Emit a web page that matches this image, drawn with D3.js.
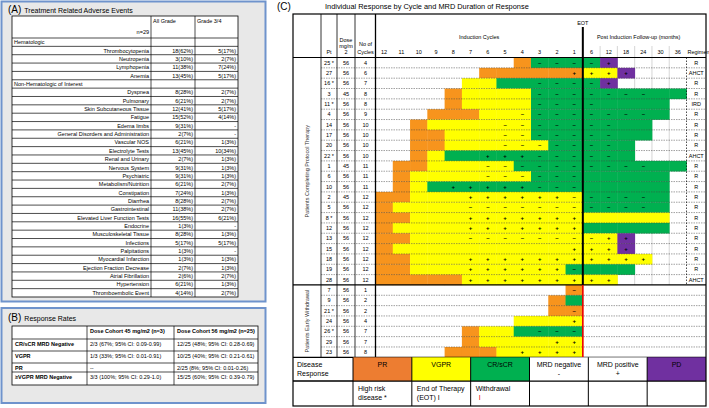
<!DOCTYPE html>
<html>
<head>
<meta charset="utf-8">
<script src="https://cdn.jsdelivr.net/npm/d3@7"></script>
<style>
  body { margin: 0; background: #fff; }
  svg { display: block; }
  text { font-family: "Liberation Sans", Arial, sans-serif; }
</style>
</head>
<body>
<script>
// ---------- data: panel A ----------
const aeNames = ["Hematologic", "Thrombocytopenia", "Neutropenia", "Lymphopenia", "Anemia",
  "Non-Hematologic of Interest", "Dyspnea", "Pulmonary", "Skin Subcutaneous Tissue", "Fatigue",
  "Edema limbs", "General Disorders and Administration", "Vascular NOS", "Electrolyte Tests",
  "Renal and Urinary", "Nervous System", "Psychiatric", "Metabolism/Nutrition", "Constipation",
  "Diarrhea", "Gastrointestinal", "Elevated Liver Function Tests", "Endocrine",
  "Musculoskeletal Tissue", "Infections", "Palpitations", "Myocardial Infarction",
  "Ejection Fraction Decrease", "Atrial Fibrillation", "Hypertension", "Thromboembolic Event"];
const aeAll = ["", "18(62%)", "3(10%)", "11(38%)", "13(45%)", "", "8(28%)", "6(21%)", "12(41%)",
  "15(52%)", "9(31%)", "2(7%)", "6(21%)", "13(45%)", "2(7%)", "9(31%)", "9(31%)", "6(21%)",
  "7(24%)", "8(28%)", "11(38%)", "16(55%)", "1(3%)", "8(28%)", "5(17%)", "1(3%)", "1(3%)",
  "2(7%)", "2(6%)", "6(21%)", "4(14%)"];
const aeG34 = ["", "5(17%)", "2(7%)", "7(24%)", "5(17%)", "", "2(7%)", "2(7%)", "5(17%)",
  "4(14%)", "-", "-", "1(3%)", "10(34%)", "1(3%)", "1(3%)", "1(3%)", "2(7%)", "1(3%)", "2(7%)",
  "2(7%)", "6(21%)", "-", "1(3%)", "5(17%)", "-", "1(3%)", "1(3%)", "2(7%)", "1(3%)", "2(7%)"];
const aeSections = ["Hematologic", "Non-Hematologic of Interest"];

// ---------- data: panel B ----------
const rrHead = ["", "Dose Cohort 45 mg/m2  (n=3)", "Dose Cohort 56 mg/m2  (n=25)"];
const rrLabels = ["CR/sCR  MRD Negative", "VGPR", "PR", "\u2265VGPR  MRD Negative"];
const rr45 = ["2/3 (67%; 95% CI:  0.09-0.99)", "1/3 (33%; 95% CI:  0.01-0.91)", "--",
  "3/3 (100%; 95% CI:  0.29-1.0)"];
const rr56 = ["12/25 (48%; 95% CI:  0.28-0.69)", "10/25 (40%; 95% CI: 0.21-0.61)",
  "2/25 (8%; 95% CI: 0.01-0.26)", "15/25 (60%; 95% CI: 0.39-0.79)"];

// ---------- data: panel C ----------
const inductionCycles = [12, 11, 10, 9, 8, 7, 6, 5, 4, 3, 2, 1];
const followUpMonths = [6, 12, 18, 24, 30, 36];
const ptIds = ["25", "27", "16", "3", "11", "4", "14", "17", "20", "22", "1", "6", "10", "2", "5",
  "8", "12", "13", "15", "18", "19", "28", "7", "9", "21", "24", "26", "29", "23"];
const ptDose = [56, 56, 56, 45, 56, 56, 56, 56, 56, 56, 45, 56, 56, 45, 56, 56, 56, 56, 56, 56,
  56, 56, 56, 56, 56, 56, 56, 56, 56];
const ptCycles = [4, 6, 7, 8, 8, 9, 10, 10, 10, 10, 11, 11, 11, 12, 12, 12, 12, 12, 12, 12, 12, 12,
  1, 2, 2, 4, 7, 7, 8];
const highRisk = ["25", "16", "11", "22", "8", "21", "26"];
const nCompleting = 22;
// one char per column: cycles 12..1 then months 6..36 (O=PR, Y=VGPR, G=CR/sCR, P=PD)
const response = [
  "........OGGG" + "GP....", "......OOOOOO" + "YYP...", ".....YYGGGGG" + "GP....",
  "....OYYYYGGG" + "GGGGGG", "....OYYYYGGG" + "GGGGG.", "...OOOYYYGGG" + "GGGGG.",
  "..OYYYYYYGGG" + "GGGG..", "..OOYYYYYGGG" + "GGGG..", "..OOYYYYYYGG" + "GGG...",
  "..OYGGGGGGGG" + "GGG...", ".OOYYYYYGGGG" + "GGGGGG", ".OYYYYYYYGGG" + "GGGGG.",
  ".OYGGGGGGGGG" + "GGGGG.", "OOYYYYYYYYYY" + "GGGGG.", "OYYYYYYYYYYY" + "GGGGG.",
  "OOYYYYYYYYYY" + "YYYYY.", "OYYYYYYYYYYY" + "GGGGG.", "OOYYYYYYYYYY" + "YYP...",
  "OYYYYYYYYYYY" + "YYP...", "OOYYYYYYYYYY" + "YYYY..", "OOYYYYYYYYYG" + "GGG...",
  "OOOOOYYYYYYY" + "YY....",
  "...........O" + "......", "..........OG" + "......", "..........OO" + "......",
  "........YYYY" + "......", ".....OYYGGGG" + "......", ".....OYYYYYY" + "......",
  "....OOOYYYYY" + "......"];
// MRD: '-' negative, '+' positive
const mrd = [
  ".........---" + "-+....", "...........+" + "+++...", ".........---" + "-+....",
  ".........---" + "----..", ".........---" + "-.....", "........----" + "----..",
  ".......-----" + "--....", ".......-----" + "--....", ".......-----" + "--....",
  "......+++---" + "--....", "......------" + "----..", "......------" + "......",
  "....+++++---" + "......", ".....++++++-" + "----..", ".....-------" + "----..",
  ".....+++++++" + "......", ".....+++++++" + "......", ".....-------" + "-++...",
  "...........+" + "+++...", ".....+++++++" + "++++..", ".....++++++-" + "......",
  ".....+++++++" + "++....",
  "...........-" + "......", "............" + "......", "...........-" + "......",
  "...........+" + "......", ".........---" + "......", "..........++" + "......",
  "........++++" + "......"];
const regimen = ["R", "AHCT", "R", "R", "IRD", "R", "R", "R", "R", "AHCT", "R", "R", "R", "R", "R",
  "R", "R", "R", "R", "R", "R", "AHCT"];
const legendTop = ["PR", "VGPR", "CR/sCR", "MRD negative", "MRD positive", "PD"];

const fills = { O: "#f7941d", Y: "#ffff00", G: "#00b050", P: "#7030a0" };
const legendFills = ["#ed7d31", "#ffff00", "#00b050", "#fff", "#fff", "#7030a0"];

const svg = d3.select("body").append("svg").attr("width", 709).attr("height", 408);

// ================= panel A =================
svg.append("rect").attr("x", 1.5).attr("y", 1.5).attr("width", 264).attr("height", 300)
  .attr("fill", "#e8e8e8").attr("stroke", "#6f93cc").attr("stroke-width", 2);
svg.append("text").attr("x", 8).attr("y", 13).attr("font-size", 10).text("(A)")
  .append("tspan").attr("font-size", 7).attr("dx", 3).text("Treatment Related Adverse Events");

const aCols = [12, 151, 195, 238];
const aTop = 16, aHead = 38, aBottom = 297;
const yA = d3.scaleBand().domain(d3.range(aeNames.length)).range([aHead, aBottom]);
const gA = svg.append("g");
gA.append("rect").attr("x", aCols[0]).attr("y", aTop).attr("width", aCols[3] - aCols[0])
  .attr("height", aBottom - aTop).attr("fill", "#fff").attr("stroke", "#000").attr("stroke-width", 0.8);
gA.selectAll("line.h").data(d3.range(aeNames.length)).join("line")
  .attr("x1", aCols[0]).attr("x2", aCols[3])
  .attr("y1", d => yA(d)).attr("y2", d => yA(d))
  .attr("stroke", "#000").attr("stroke-width", 0.7);
[aCols[1], aCols[2]].forEach(x => gA.append("line").attr("x1", x).attr("x2", x)
  .attr("y1", aTop).attr("y2", aBottom).attr("stroke", "#000").attr("stroke-width", 0.7));
gA.append("text").attr("x", aCols[1] + 2).attr("y", 23).attr("font-size", 5.5).text("All Grade");
gA.append("text").attr("x", aCols[2] + 2).attr("y", 23).attr("font-size", 5.5).text("Grade 3/4");
gA.append("text").attr("x", aCols[1] - 2).attr("y", 34).attr("font-size", 5.5)
  .attr("text-anchor", "end").text("n=29");
const aRows = gA.selectAll("g.r").data(aeNames).join("g")
  .attr("transform", (d, i) => `translate(0,${yA(i) + yA.bandwidth() / 2 + 2})`)
  .attr("font-size", 5.5);
aRows.append("text")
  .attr("x", d => aeSections.includes(d) ? aCols[0] + 2 : aCols[1] - 2)
  .attr("text-anchor", d => aeSections.includes(d) ? "start" : "end")
  .text(d => d);
aRows.append("text").attr("x", aCols[2] - 2).attr("text-anchor", "end").text((d, i) => aeAll[i]);
aRows.append("text").attr("x", aCols[3] - 2).attr("text-anchor", "end").text((d, i) => aeG34[i]);

// ================= panel B =================
svg.append("rect").attr("x", 1.5).attr("y", 308).attr("width", 264).attr("height", 95)
  .attr("fill", "#e8e8e8").attr("stroke", "#6f93cc").attr("stroke-width", 2);
svg.append("text").attr("x", 8).attr("y", 321).attr("font-size", 10).text("(B)")
  .append("tspan").attr("font-size", 7).attr("dx", 3).text("Response Rates");
const bCols = [12, 87, 174, 258];
const bRows = [326, 339, 351, 363, 372, 385];
const gB = svg.append("g").attr("font-size", 5.5);
gB.append("rect").attr("x", bCols[0]).attr("y", bRows[0]).attr("width", bCols[3] - bCols[0])
  .attr("height", bRows[5] - bRows[0]).attr("fill", "#fff").attr("stroke", "#000").attr("stroke-width", 0.8);
bRows.slice(1, 5).forEach(y => gB.append("line").attr("x1", bCols[0]).attr("x2", bCols[3])
  .attr("y1", y).attr("y2", y).attr("stroke", "#000").attr("stroke-width", 0.7));
bCols.slice(1, 3).forEach(x => gB.append("line").attr("x1", x).attr("x2", x)
  .attr("y1", bRows[0]).attr("y2", bRows[5]).attr("stroke", "#000").attr("stroke-width", 0.7));
rrHead.forEach((t, j) => gB.append("text").attr("x", bCols[j] + 3).attr("y", bRows[0] + 7)
  .attr("font-weight", "bold").text(t));
rrLabels.forEach((t, i) => {
  const y = bRows[i + 1] + 6.5;
  gB.append("text").attr("x", bCols[0] + 3).attr("y", y).attr("font-weight", "bold").text(t);
  gB.append("text").attr("x", bCols[1] + 3).attr("y", y).text(rr45[i]);
  gB.append("text").attr("x", bCols[2] + 3).attr("y", y).text(rr56[i]);
});

// ================= panel C =================
const cL = 293, cR = 706, cT = 14, headBot = 57.5, bodyBot = 357.3, legMid = 381, cB = 406;
const colPt = [321, 337, 355, 375.5];
const x = d3.scaleBand().domain(d3.range(18)).range([375.5, 686.5]);
const y = d3.scaleBand().domain(d3.range(ptIds.length)).range([headBot, bodyBot]);
const eotX = x(12);
const regX = x(17) + x.bandwidth();
const gC = svg.append("g").attr("font-size", 5.5);

svg.append("text").attr("x", 277).attr("y", 10).attr("font-size", 10).text("(C)");
svg.append("text").attr("x", 325).attr("y", 9).attr("font-size", 7.4).text("Individual Response by Cycle and MRD Duration of Response");

gC.append("rect").attr("x", cL).attr("y", cT).attr("width", cR - cL).attr("height", cB - cT)
  .attr("fill", "#fff");

// light grid in follow-up area for completing patients
d3.range(13, 18).forEach(c => gC.append("line").attr("x1", x(c)).attr("x2", x(c))
  .attr("y1", 46).attr("y2", y(nCompleting)).attr("stroke", "#bbb").attr("stroke-width", 0.6));

// response cells
const cells = [];
response.forEach((s, r) => s.split("").forEach((ch, c) => { if (fills[ch]) cells.push({ r, c, ch }); }));
gC.selectAll("rect.cell").data(cells).join("rect")
  .attr("x", d => x(d.c)).attr("y", d => y(d.r))
  .attr("width", x.bandwidth() + 0.4).attr("height", y.bandwidth() + 0.3)
  .attr("fill", d => fills[d.ch]);

// row separators
d3.range(1, ptIds.length).filter(r => r !== nCompleting).forEach(r =>
  gC.append("line").attr("x1", colPt[0]).attr("x2", cR).attr("y1", y(r)).attr("y2", y(r))
    .attr("stroke", "#444").attr("stroke-width", 0.5).attr("stroke-dasharray", "1.5,1"));
[headBot, y(nCompleting), bodyBot, legMid].forEach(v => gC.append("line").attr("x1", cL).attr("x2", cR)
  .attr("y1", v).attr("y2", v).attr("stroke", "#000").attr("stroke-width", 1.2));
colPt.forEach((v, i) => gC.append("line").attr("x1", v).attr("x2", v).attr("y1", cT).attr("y2", bodyBot)
  .attr("stroke", "#000").attr("stroke-width", i === 3 ? 1.3 : 0.8));
gC.append("line").attr("x1", regX).attr("x2", regX).attr("y1", headBot).attr("y2", y(nCompleting))
  .attr("stroke", "#000").attr("stroke-width", 0.7).attr("stroke-dasharray", "1.5,1.5");

// MRD marks
const marks = [];
mrd.forEach((s, r) => s.split("").forEach((ch, c) => { if (ch !== ".") marks.push({ r, c, ch }); }));
gC.selectAll("text.mrd").data(marks).join("text")
  .attr("x", d => x(d.c) + x.bandwidth() / 2).attr("y", d => y(d.r) + y.bandwidth() / 2 + 2)
  .attr("text-anchor", "middle").attr("font-size", 6).attr("font-weight", "bold")
  .text(d => d.ch === "-" ? "\u2013" : "+");

// EOT line
gC.append("line").attr("x1", eotX).attr("x2", eotX).attr("y1", 27).attr("y2", y(nCompleting))
  .attr("stroke", "#000").attr("stroke-width", 2);
gC.append("line").attr("x1", eotX).attr("x2", eotX).attr("y1", y(nCompleting)).attr("y2", bodyBot)
  .attr("stroke", "#e00").attr("stroke-width", 1.6);
gC.append("text").attr("x", eotX).attr("y", 25).attr("text-anchor", "middle").text("EOT");

// headers
gC.append("text").attr("x", 329).attr("y", 54).attr("text-anchor", "middle").text("Pt");
["Dose", "mg/m", "2"].forEach((t, i) => gC.append("text").attr("x", 346).attr("y", 42 + i * 6)
  .attr("text-anchor", "middle").text(t));
["No of", "Cycles"].forEach((t, i) => gC.append("text").attr("x", 365.5).attr("y", 46 + i * 7.5)
  .attr("text-anchor", "middle").text(t));
gC.append("text").attr("x", (x(0) + eotX) / 2).attr("y", 39).attr("text-anchor", "middle").text("Induction Cycles");
gC.append("text").attr("x", (eotX + regX) / 2 + 4).attr("y", 39).attr("text-anchor", "middle")
  .text("Post Induction Follow-up (months)");
gC.selectAll("text.colh").data(inductionCycles.concat(followUpMonths)).join("text")
  .attr("x", (d, i) => x(i) + x.bandwidth() / 2).attr("y", 54).attr("text-anchor", "middle")
  .text(d => d);
gC.append("text").attr("x", regX + 1).attr("y", 54).text("Regimen");

// patient columns
const pRows = gC.selectAll("g.pt").data(ptIds).join("g")
  .attr("transform", (d, i) => `translate(0,${y(i) + y.bandwidth() / 2 + 2})`);
pRows.append("text").attr("x", 329).attr("text-anchor", "middle")
  .text(d => highRisk.includes(d) ? d + " *" : d);
pRows.append("text").attr("x", 346).attr("text-anchor", "middle").text((d, i) => ptDose[i]);
pRows.append("text").attr("x", 365.5).attr("text-anchor", "middle").text((d, i) => ptCycles[i]);
pRows.filter((d, i) => i < nCompleting).append("text")
  .attr("x", (regX + cR) / 2).attr("text-anchor", "middle").text((d, i) => regimen[i]);

// side labels
gC.append("text").attr("transform", `translate(309,${(headBot + y(nCompleting)) / 2}) rotate(-90)`)
  .attr("text-anchor", "middle").attr("fill", "#333").text("Patients Completing Protocol Therapy");
gC.append("text").attr("transform", `translate(309,${(y(nCompleting) + bodyBot) / 2}) rotate(-90)`)
  .attr("text-anchor", "middle").attr("fill", "#333").text("Patients Early Withdrawal");

// legend
const xl = d3.scaleBand().domain(legendTop).range([353, cR]);
gC.selectAll("rect.leg").data(legendTop).join("rect")
  .attr("x", d => xl(d)).attr("y", bodyBot).attr("width", xl.bandwidth()).attr("height", legMid - bodyBot)
  .attr("fill", (d, i) => legendFills[i]);
[353].concat(legendTop.slice(1).map(d => xl(d))).forEach(v => gC.append("line")
  .attr("x1", v).attr("x2", v).attr("y1", bodyBot).attr("y2", cB).attr("stroke", "#000").attr("stroke-width", 1));
[legMid].forEach(v => gC.append("line").attr("x1", cL).attr("x2", cR).attr("y1", v).attr("y2", v)
  .attr("stroke", "#000").attr("stroke-width", 1));
const gL = gC.append("g").attr("font-size", 7);
gL.append("text").attr("x", 297).attr("y", 367).text("Disease");
gL.append("text").attr("x", 297).attr("y", 376).text("Response");
legendTop.forEach((d, i) => {
  const cx = xl(d) + xl.bandwidth() / 2;
  gL.append("text").attr("x", cx).attr("y", 367).attr("text-anchor", "middle").text(d);
  if (i === 3) gL.append("text").attr("x", cx).attr("y", 376).attr("text-anchor", "middle").text("-");
  if (i === 4) gL.append("text").attr("x", cx).attr("y", 376).attr("text-anchor", "middle").text("+");
});
const l2 = [["High risk", "disease *"], ["End of Therapy", "(EOT) I"], ["Withdrawal", ""]];
l2.forEach((pair, i) => {
  const lx = xl(legendTop[i]) + 5;
  gL.append("text").attr("x", lx).attr("y", 391).text(pair[0]);
  gL.append("text").attr("x", lx).attr("y", 400).text(pair[1]);
});
gL.append("text").attr("x", xl("CR/sCR") + 8).attr("y", 400).attr("fill", "#e00").text("I");

gC.append("rect").attr("x", cL).attr("y", cT).attr("width", cR - cL).attr("height", cB - cT)
  .attr("fill", "none").attr("stroke", "#000").attr("stroke-width", 1.2);
</script>
</body>
</html>
